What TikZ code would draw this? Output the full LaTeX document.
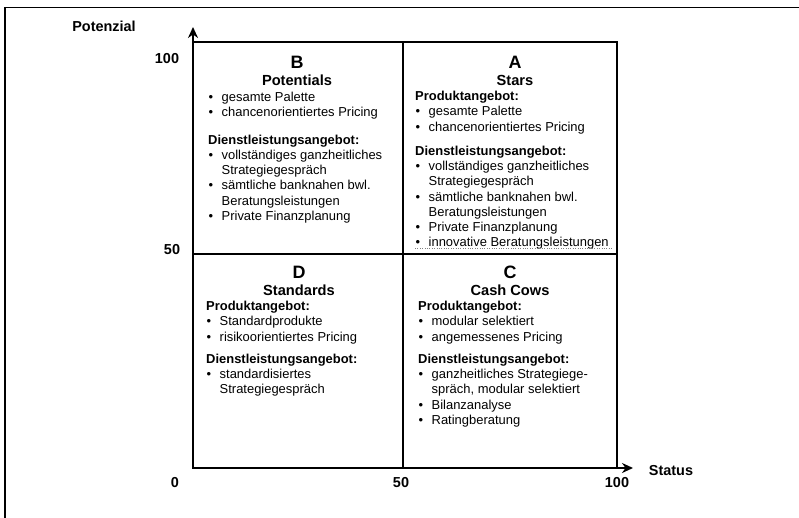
\documentclass[tikz,border=0pt]{standalone}
\usepackage{fontspec}
\setmainfont{Liberation Sans}
\usetikzlibrary{arrows.meta,positioning}
\newcommand{\pkt}{\makebox[13.5bp][l]{\hspace{0.5bp}\textbullet}}
\newcommand{\weiter}{\hspace*{13.5bp}}

\begin{document}
\begin{tikzpicture}[x=1bp,y=-1bp,node distance=18.5bp,>={Stealth[length=11bp,width=10bp]}]
  \tikzstyle{axisline}=[line width=2bp]
  \tikzstyle{fieldline}=[line width=1.8bp]
  \tikzstyle{axlabel}=[font=\fontsize{14.5}{16}\selectfont\bfseries,inner sep=0pt]
  \tikzstyle{quadletter}=[font=\fontsize{18}{20}\selectfont\bfseries,inner sep=0pt]
  \tikzstyle{quadname}=[font=\fontsize{14.7}{16}\selectfont\bfseries,inner sep=0pt]
  \tikzstyle{quadtext}=[font=\fontsize{13}{15.3}\selectfont,align=left,anchor=north west,inner sep=0pt]

  \useasboundingbox (0,0) rectangle (799,518);
  \draw[line width=1.5bp] (5,518) -- (5,7.5) -- (799,7.5); % frame

  \coordinate (org) at (193,468);
  \coordinate (ytop) at (193,27);
  \coordinate (xend) at (633,468);
  \coordinate (ne) at (617,42);

  % fields
  \draw[fieldline] (org) rectangle (ne);
  \draw[fieldline] (403,42) -- (403,468);
  \draw[fieldline] (193,254) -- (617,254);
  \draw[axisline,->] (org) -- (ytop);
  \draw[axisline,->] (org) -- (xend);

  % axis labels
  \node [axlabel] (potenzial) at (104,26) {Potenzial};
  \node [axlabel] (status) at (671,471) {Status};
  \node [axlabel] (y100) at (167,59) {100};
  \node [axlabel] (y50) at (172,250) {50};
  \node [axlabel] (null) at (175,483) {0};
  \node [axlabel] (x50) at (401,483) {50};
  \node [axlabel] (x100) at (617,483) {100};

  % B
  \node [quadletter] (letB) at (297,62) {B};
  \node [quadname] (namB) [below of=letB] {Potentials};
  \node [quadtext] (txtB) at (208,92) {\pkt gesamte Palette\\
    \pkt chancenorientiertes Pricing\\[12bp]
    \textbf{Dienstleistungsangebot:}\\
    \pkt vollständiges ganzheitliches\\
    \weiter Strategiegespräch\\
    \pkt sämtliche banknahen bwl.\\
    \weiter Beratungsleistungen\\
    \pkt Private Finanzplanung};

  % A
  \node [quadletter] (letA) at (515,62) {A};
  \node [quadname] (namA) [below of=letA] {Stars};
  \node [quadtext] (txtA) at (415,91) {\textbf{Produktangebot:}\\
    \pkt gesamte Palette\\
    \pkt chancenorientiertes Pricing\\[9bp]
    \textbf{Dienstleistungsangebot:}\\
    \pkt vollständiges ganzheitliches\\
    \weiter Strategiegespräch\\
    \pkt sämtliche banknahen bwl.\\
    \weiter Beratungsleistungen\\
    \pkt Private Finanzplanung\\
    \pkt innovative Beratungsleistungen};
  \draw[dotted,thin,gray] (415,248) -- (613,248);

  % D
  \node [quadletter] (letD) at (299,272) {D};
  \node [quadname] (namD) [below of=letD] {Standards};
  \node [quadtext] (txtD) at (206,301) {\textbf{Produktangebot:}\\
    \pkt Standardprodukte\\
    \pkt risikoorientiertes Pricing\\[7bp]
    \textbf{Dienstleistungsangebot:}\\
    \pkt standardisiertes\\
    \weiter Strategiegespräch};

  % C
  \node [quadletter] (letC) at (510,272) {C};
  \node [quadname] (namC) [below of=letC] {Cash Cows};
  \node [quadtext] (txtC) at (418,301) {\textbf{Produktangebot:}\\
    \pkt modular selektiert\\
    \pkt angemessenes Pricing\\[7bp]
    \textbf{Dienstleistungsangebot:}\\
    \pkt ganzheitliches Strategiege-\\
    \weiter spräch, modular selektiert\\
    \pkt Bilanzanalyse\\
    \pkt Ratingberatung};
\end{tikzpicture}
\end{document}
